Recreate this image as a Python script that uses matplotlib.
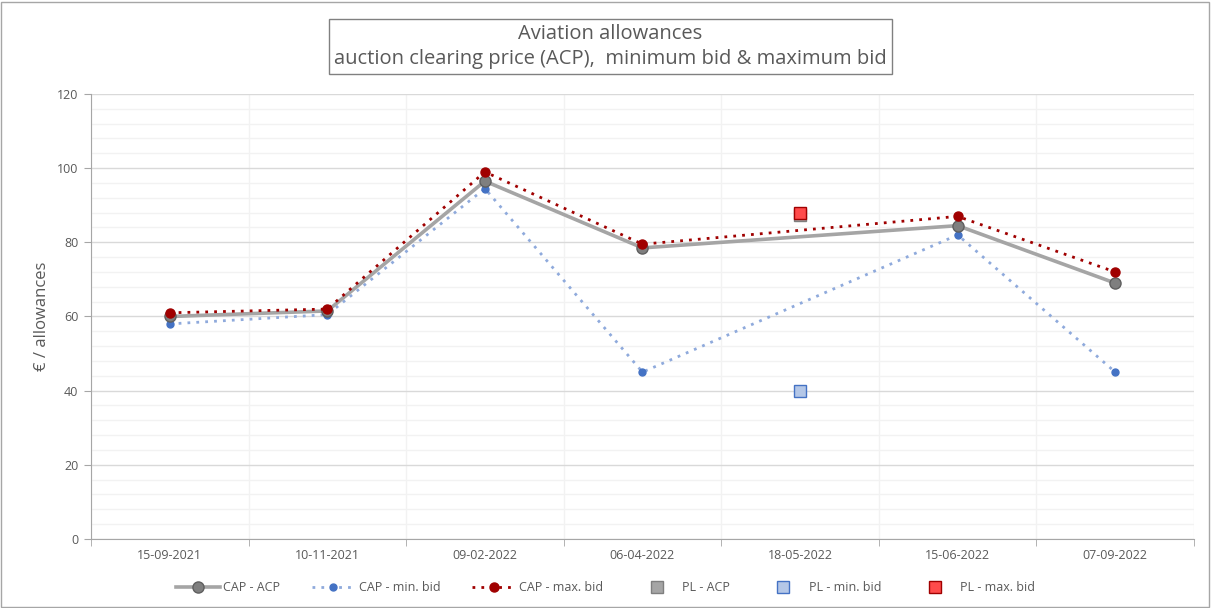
import matplotlib
matplotlib.use("Agg")
import matplotlib.pyplot as plt
from matplotlib.patches import Rectangle
from matplotlib.ticker import MultipleLocator, FixedLocator, NullFormatter

categories = ["15-09-2021", "10-11-2021", "09-02-2022", "06-04-2022",
              "18-05-2022", "15-06-2022", "07-09-2022"]
cap_dates = ["15-09-2021", "10-11-2021", "09-02-2022", "06-04-2022",
             "15-06-2022", "07-09-2022"]
cap_acp = [60.0, 61.5, 96.5, 78.5, 84.5, 69.0]
cap_min = [58.0, 60.5, 94.5, 45.0, 82.0, 45.0]
cap_max = [61.0, 62.0, 99.0, 79.5, 87.0, 72.0]
pl_dates = ["18-05-2022"]
pl_acp = [87.5]
pl_min = [40.0]
pl_max = [88.0]

plt.rcParams['font.family'] = ['Open Sans', 'DejaVu Sans']
txt = '#595959'

fig = plt.figure(figsize=(12.11, 6.08), dpi=100)
fig.patches.append(Rectangle((0.001, 0.002), 0.997, 0.995, transform=fig.transFigure,
                             fill=False, edgecolor='#a6a6a6', lw=1))
ax = fig.add_axes([0.0751, 0.1135, 0.9109, 0.7319])

cx = [categories.index(d) for d in cap_dates]
px = [categories.index(d) for d in pl_dates]

ax.plot(cx, cap_acp, color='#a5a5a5', lw=2.6, marker='o', ms=8,
        mfc='#7f7f7f', mec='#5f5f5f', mew=1, label='CAP - ACP', zorder=4)
ax.plot(cx, cap_min, color='#8faadc', lw=2, ls=(0, (1, 2.2)), marker='o', ms=5,
        mfc='#4472c4', mec='#4472c4', label='CAP - min. bid', zorder=3)
ax.plot(cx, cap_max, color='#a00000', lw=2, ls=(0, (1, 2.2)), marker='o', ms=6.5,
        mfc='#a00000', mec='#a00000', label='CAP - max. bid', zorder=5)
ax.plot(px, pl_acp, ls='none', marker='s', ms=8.5, mfc='#a5a5a5', mec='#7f7f7f',
        label='PL - ACP', zorder=5)
ax.plot(px, pl_min, ls='none', marker='s', ms=8.5, mfc='#b4c7e7', mec='#4472c4',
        label='PL - min. bid', zorder=5)
ax.plot(px, pl_max, ls='none', marker='s', ms=8.5, mfc='#ff4b4b', mec='#a00000',
        label='PL - max. bid', zorder=6)

ax.set_xlim(-0.5, len(categories) - 0.5)
ax.set_ylim(0, 120)
ax.yaxis.set_major_locator(MultipleLocator(20))
ax.yaxis.set_minor_locator(MultipleLocator(4))
ax.set_xticks(range(len(categories)))
ax.set_xticklabels(categories)
ax.xaxis.set_minor_locator(FixedLocator([i - 0.5 for i in range(len(categories) + 1)]))
ax.xaxis.set_minor_formatter(NullFormatter())

ax.grid(which='major', axis='y', color='#d9d9d9', lw=1)
ax.grid(which='minor', axis='y', color='#f2f2f2', lw=1)
ax.grid(which='minor', axis='x', color='#f2f2f2', lw=1)
ax.set_axisbelow(True)

ax.tick_params(axis='x', which='major', length=0, labelsize=9, colors=txt, pad=7)
ax.tick_params(axis='x', which='minor', length=5, color='#a6a6a6', direction='out')
ax.tick_params(axis='y', which='major', length=5, color='#a6a6a6', labelsize=9, labelcolor=txt, pad=4)
ax.tick_params(axis='y', which='minor', length=0)

for s in ['top', 'right']:
    ax.spines[s].set_visible(False)
for s in ['left', 'bottom']:
    ax.spines[s].set_color('#a6a6a6')

ax.set_ylabel('€ / allowances', fontsize=12, color=txt, labelpad=5)

fig.text(0.504, 0.9235, "Aviation allowances\nauction clearing price (ACP),  minimum bid & maximum bid",
         ha='center', va='center', fontsize=14.5, color=txt, linespacing=1.3,
         bbox=dict(boxstyle='square,pad=0.25', fc='white', ec='#808080', lw=1))

fig.legend(loc='center', bbox_to_anchor=(0.5, 0.033), ncol=6, frameon=False,
           fontsize=9, labelcolor=txt, handlelength=3.5, columnspacing=2.5,
           handletextpad=0.3)

fig.savefig('out.png', dpi=100)
